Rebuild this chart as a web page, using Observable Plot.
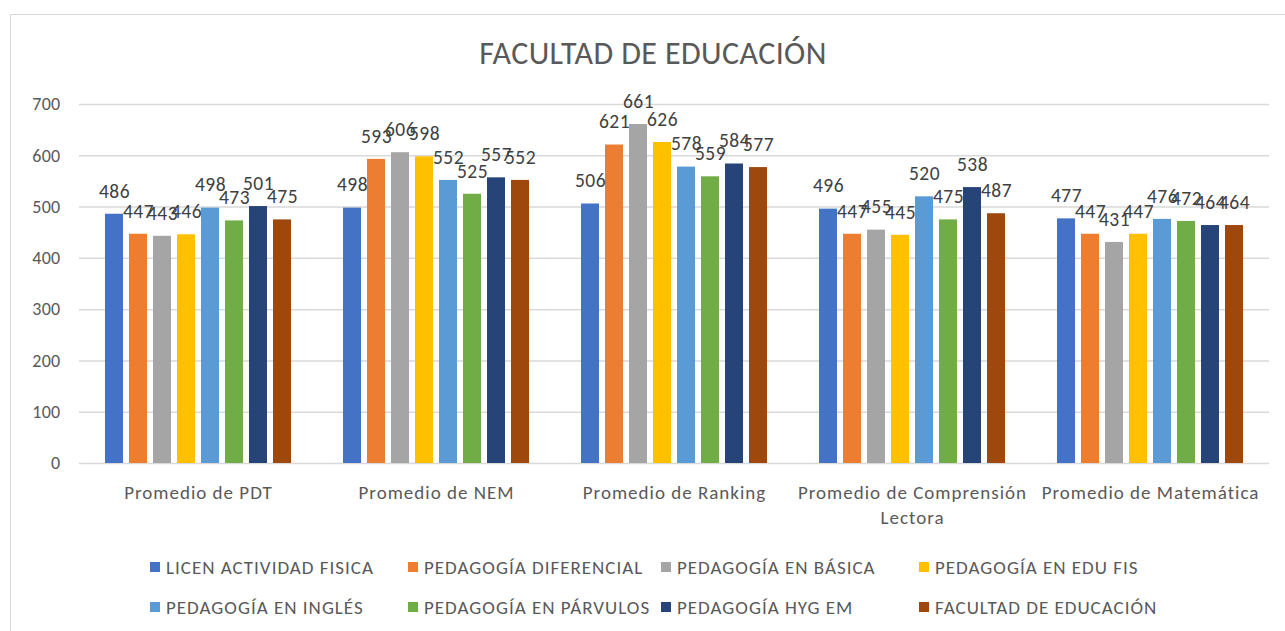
<!DOCTYPE html>
<html>
<head>
<meta charset="utf-8">
<script src="https://cdn.jsdelivr.net/npm/d3@7"></script>
<script src="https://cdn.jsdelivr.net/npm/@observablehq/plot@0.6"></script>
<style>
  html, body { margin: 0; padding: 0; background: #fff; overflow: hidden; }
  #wrap { position: relative; width: 1285px; height: 631px; font-family: Carlito, Lato, "Liberation Sans", sans-serif; color: #595959; }
  #frame { position: absolute; left: 10px; top: 14px; width: 1300px; height: 660px; border: 1.5px solid #d9d9d9; box-sizing: border-box; }
  #title { position: absolute; left: 0; width: 1306px; top: 34px; text-align: center; font-size: 32px; letter-spacing: 0.4px; color: #595959; }
  #chart { position: absolute; left: 0; top: 0; }
  .leg { position: absolute; font-size: 19px; letter-spacing: 1px; color: #595959; white-space: nowrap; line-height: 22px; }
  .leg span.sw { display: inline-block; width: 10px; height: 10px; margin-right: 6px; vertical-align: 2px; }
  g[aria-label="fx-axis tick label"] text { letter-spacing: 1px; }
  g[aria-label="y-axis tick label"] text { letter-spacing: 0.3px; }
  g[aria-label="text"] text { letter-spacing: 0.5px; }
</style>
</head>
<body>
<div id="wrap">
  <div id="frame"></div>
  <div id="chart"></div>
  <div id="title">FACULTAD DE EDUCACIÓN</div>
  <div id="legend"></div>
</div>
<script>
const categories = ["Promedio de PDT", "Promedio de NEM", "Promedio de Ranking", "Promedio de Comprensión Lectora", "Promedio de Matemática"];
const series = ["LICEN ACTIVIDAD FISICA", "PEDAGOGÍA DIFERENCIAL", "PEDAGOGÍA EN BÁSICA", "PEDAGOGÍA EN EDU FIS", "PEDAGOGÍA EN INGLÉS", "PEDAGOGÍA EN PÁRVULOS", "PEDAGOGÍA HYG EM", "FACULTAD DE EDUCACIÓN"];
const colors = ["#4472C4", "#ED7D31", "#A5A5A5", "#FFC000", "#5B9BD5", "#70AD47", "#264478", "#9E480E"];
const licenActividadFisica = [486, 498, 506, 496, 477];
const pedagogiaDiferencial = [447, 593, 621, 447, 447];
const pedagogiaBasica = [443, 606, 661, 455, 431];
const pedagogiaEduFis = [446, 598, 626, 445, 447];
const pedagogiaIngles = [498, 552, 578, 520, 476];
const pedagogiaParvulos = [473, 525, 559, 475, 472];
const pedagogiaHygEm = [501, 557, 584, 538, 464];
const facultadEducacion = [475, 552, 577, 487, 464];
const yTicks = [0, 100, 200, 300, 400, 500, 600, 700];

const seriesValues = [licenActividadFisica, pedagogiaDiferencial, pedagogiaBasica, pedagogiaEduFis, pedagogiaIngles, pedagogiaParvulos, pedagogiaHygEm, facultadEducacion];
const data = [];
categories.forEach((c, i) => series.forEach((s, j) => data.push({cat: c, series: s, value: seriesValues[j][i]})));

const chart = Plot.plot({
  width: 1285,
  height: 540,
  marginLeft: 77,
  marginRight: 15,
  marginTop: 104,
  marginBottom: 77,
  style: {fontFamily: "Carlito, Lato, 'Liberation Sans', sans-serif", fontSize: "18px", color: "#595959", background: "transparent"},
  fx: {domain: categories, padding: 0, label: null},
  x: {domain: series, axis: null, paddingInner: 0.24, paddingOuter: 0.89},
  y: {domain: [0, 700], label: null},
  color: {domain: series, range: colors},
  marks: [
    Plot.ruleY(yTicks, {stroke: "#d9d9d9", strokeWidth: 1.5}),
    Plot.axisY({ticks: yTicks, tickSize: 0, tickPadding: 19, fontSize: 18, label: null}),
    Plot.axisFx({anchor: "bottom", tickSize: 0, tickPadding: 18, fontSize: 19, label: null, lineHeight: 1.3,
      tickFormat: d => d === "Promedio de Comprensión Lectora" ? "Promedio de Comprensión\nLectora" : d}),
    Plot.barY(data, {fx: "cat", x: "series", y: "value", fill: "series"}),
    Plot.text(data, {fx: "cat", x: "series", y: "value", text: d => String(d.value), dy: -23, fontSize: 19.5, fill: "#404040"})
  ]
});
document.getElementById("chart").appendChild(chart);

const legX = [150, 408, 661, 919, 150, 408, 661, 919];
const legY = [557, 557, 557, 557, 597, 597, 597, 597];
const leg = document.getElementById("legend");
series.forEach((s, i) => {
  const d = document.createElement("div");
  d.className = "leg";
  d.style.left = legX[i] + "px";
  d.style.top = legY[i] + "px";
  d.innerHTML = `<span class="sw" style="background:${colors[i]}"></span>${s}`;
  leg.appendChild(d);
});
</script>
</body>
</html>
